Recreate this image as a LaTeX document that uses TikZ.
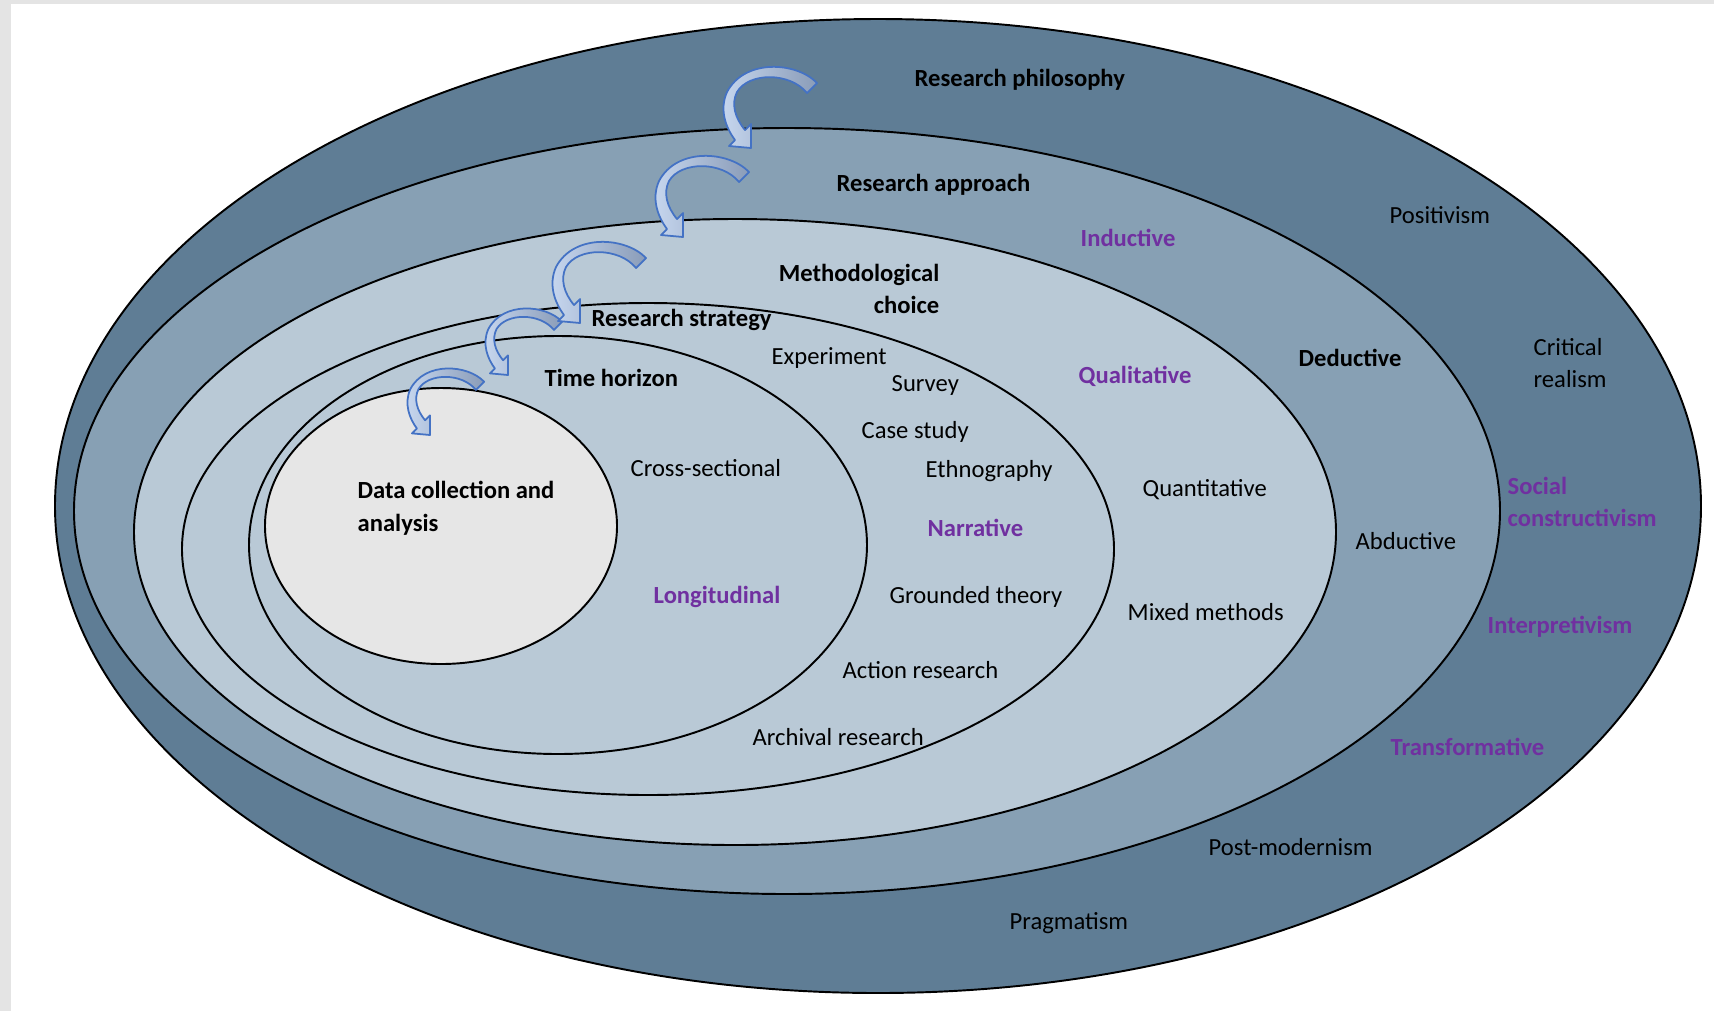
\documentclass[tikz,border=0pt]{standalone}
\usepackage{fontspec}
\setmainfont{Carlito}
\definecolor{phil}{HTML}{5F7D95}
\definecolor{appr}{HTML}{87A0B4}
\definecolor{meth}{HTML}{B9C9D6}
\definecolor{core}{HTML}{E6E6E6}
\definecolor{purp}{HTML}{7030A0}
\definecolor{arline}{HTML}{4472C4}
\definecolor{arlight}{HTML}{C8D8F0}
\definecolor{ardark}{HTML}{8A9CB8}
\definecolor{frame}{HTML}{E4E4E4}
\begin{document}
\begin{tikzpicture}[x=0.01cm,y=-0.01cm,
  ring/.style={draw=black,line width=0.55pt},
  lbl/.style={anchor=west,inner sep=0pt,align=left,
    font=\fontsize{7}{9.3}\selectfont,text=black},
  hd/.style={lbl,font=\fontsize{7}{9.3}\selectfont\bfseries},
  pur/.style={hd,text=purp},
  bendarrow/.pic={
    \draw[draw=arline,line width=0.5pt,line join=round,
          left color=arlight,right color=ardark]
      (66,-65) .. controls (46,-86) and (-6,-90) .. (-24,-56)
      .. controls (-32,-38) and (-25,-20) .. (-16,-8)
      -- (-22,-2) -- (0,0) -- (0,-24) -- (-6,-18)
      .. controls (-16,-30) and (-20,-44) .. (-14,-56)
      .. controls (-2,-76) and (39,-76) .. (56,-55) -- cycle;
  }]
\useasboundingbox (0,0) rectangle (1714,1011);
\fill[white] (0,0) rectangle (1714,1011);
\fill[frame] (0,0) rectangle (1714,4);
\fill[frame] (0,0) rectangle (11,1011);

% nested layers of the research onion
\draw[ring,fill=phil] (878,506) ellipse [x radius=823, y radius=487];
\draw[ring,fill=appr] (787,511) ellipse [x radius=713, y radius=383];
\draw[ring,fill=meth] (735,532) ellipse [x radius=601, y radius=313];
\draw[ring,fill=meth] (648,549) ellipse [x radius=466, y radius=246];
\draw[ring,fill=meth] (558,545) ellipse [x radius=309, y radius=209];
\draw[ring,fill=core] (441,526) ellipse [x radius=176, y radius=138];

% curved arrows stepping inwards
\pic[scale=0.82] at (430,435) {bendarrow};
\pic[scale=0.82] at (508,375) {bendarrow};
\pic at (580,323) {bendarrow};
\pic at (683,237) {bendarrow};
\pic at (751,148) {bendarrow};

\begin{scope}[shift={(0,2)}]
% layer titles
\node[hd] (philo) at (914,78) {Research philosophy};
\node[hd] (appro) at (836,183) {Research approach};
\node[hd,anchor=east,align=right] (methc) at (940,287) {Methodological\\choice};
\node[hd] (strat) at (591,318) {Research strategy};
\node[hd] (horiz) at (544,376) {Time horizon};
\node[hd] (datac) at (357,506) {Data collection and\\analysis};

% philosophies
\node[lbl] (posit) at (1389,213) {Positivism};
\node[lbl] (crit) at (1533,361) {Critical\\realism};
\node[pur] (socc) at (1507,500) {Social\\constructivism};
\node[pur] (interp) at (1487,625) {Interpretivism};
\node[pur] (transf) at (1390,745) {Transformative};
\node[lbl] (postm) at (1208,845) {Post-modernism};
\node[lbl] (pragm) at (1009,921) {Pragmatism};

% approaches
\node[pur] (induc) at (1080,236) {Inductive};
\node[hd] (deduc) at (1298,356) {Deductive};
\node[lbl] (abduc) at (1355,539) {Abductive};

% methodological choices
\node[pur] (quali) at (1078,374) {Qualitative};
\node[lbl] (quant) at (1142,488) {Quantitative};
\node[lbl] (mixed) at (1127,610) {Mixed methods};

% strategies
\node[lbl] (exper) at (771,356) {Experiment};
\node[lbl] (surv) at (891,383) {Survey};
\node[lbl] (case) at (861,430) {Case study};
\node[lbl] (ethno) at (925,469) {Ethnography};
\node[pur] (narr) at (927,526) {Narrative};
\node[lbl] (ground) at (889,595) {Grounded theory};
\node[lbl] (action) at (842,668) {Action research};
\node[lbl] (arch) at (752,735) {Archival research};

% time horizons
\node[lbl] (cross) at (630,466) {Cross-sectional};
\node[pur] (longi) at (653,595) {Longitudinal};
\end{scope}
\end{tikzpicture}
\end{document}
